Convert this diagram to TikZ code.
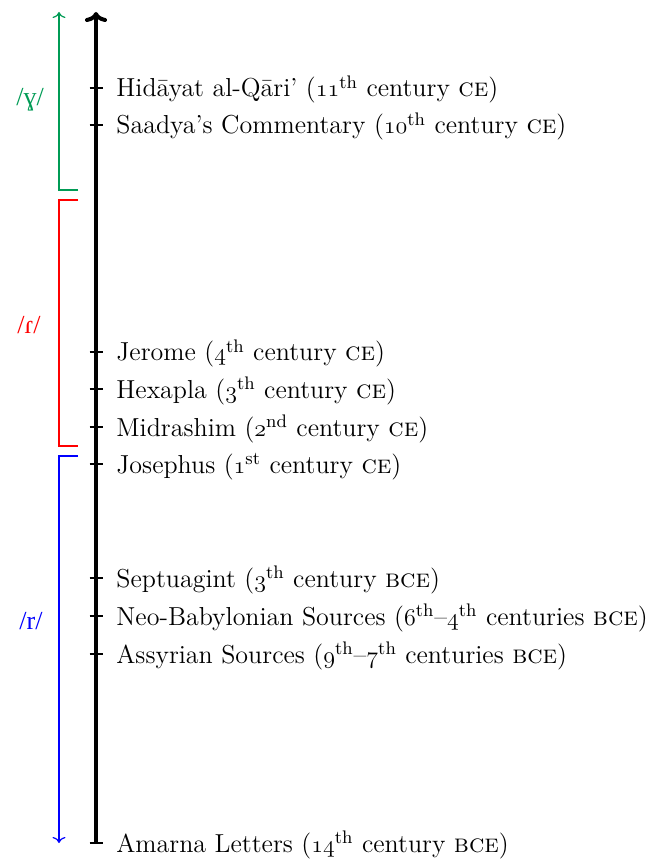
\documentclass[tikz,border=0pt]{standalone}
\usepackage{fontspec}
\usetikzlibrary{arrows.meta}
\newfontfamily\ipafont{Liberation Serif}
\definecolor{ggreen}{RGB}{0,155,85}
\newcommand{\osn}[1]{{\usefont{OML}{cmm}{m}{it}#1}}
\newcommand{\sps}[1]{\textsuperscript{#1}}
\begin{document}
\begin{tikzpicture}[x=0.5pt,y=-0.5pt,
  lbl/.style={anchor=base west,inner sep=0pt,font=\fontsize{13}{15}\selectfont},
  ipa/.style={inner sep=0pt,font=\fontsize{13}{15}\selectfont\ipafont},
  tick/.style={line width=0.6pt},
  axis/.style={line width=2pt,-{To[length=5pt,width=11pt]}},
  span/.style={line width=0.6pt,-{To[length=3pt,width=6.5pt]}}]
\useasboundingbox (0,0) rectangle (664,860);
% axis
\coordinate (bot) at (96,843);
\coordinate (top) at (96,12);
\draw[axis] (bot) -- (top);
% events
\foreach \n/\y in {h/88,s/125,j/352,x/389,m/427,o/464,p/578,n/616,a/654,b/843}{
  \coordinate (t\n) at (96,\y);
  \draw[tick] ([xshift=-3.25pt]t\n) -- ([xshift=3.25pt]t\n);
}
\node[lbl] (lh) at (116,97) {Hidāyat al-Qāri’ (\osn{11}\sps{th} century \textsc{ce})};
\node[lbl] (ls) at (116,134) {Saadya’s Commentary (\osn{10}\sps{th} century \textsc{ce})};
\node[lbl] (lj) at (116,361) {Jerome (\osn{4}\sps{th} century \textsc{ce})};
\node[lbl] (lx) at (116,398) {Hexapla (\osn{3}\sps{th} century \textsc{ce})};
\node[lbl] (lm) at (116,436) {Midrashim (\osn{2}\sps{nd} century \textsc{ce})};
\node[lbl] (lo) at (116,473) {Josephus (\osn{1}\sps{st} century \textsc{ce})};
\node[lbl] (lp) at (116,587) {Septuagint (\osn{3}\sps{th} century \textsc{bce})};
\node[lbl] (ln) at (116,625) {Neo-Babylonian Sources (\osn{6}\sps{th}--\osn{4}\sps{th} centuries \textsc{bce})};
\node[lbl] (la) at (116,663) {Assyrian Sources (\osn{9}\sps{th}--\osn{7}\sps{th} centuries \textsc{bce})};
\node[lbl] (lb) at (116,852) {Amarna Letters (\osn{14}\sps{th} century \textsc{bce})};
% spans
\coordinate (g1) at (78,190); \coordinate (g2) at (59,190); \coordinate (g3) at (59,12);
\draw[span,ggreen] (g1) -- (g2) -- (g3);
\coordinate (r1) at (78,200); \coordinate (r2) at (59,200); \coordinate (r3) at (59,446); \coordinate (r4) at (78,446);
\draw[line width=0.6pt,red] (r1) -- (r2) -- (r3) -- (r4);
\coordinate (b1) at (78,456); \coordinate (b2) at (59,456); \coordinate (b3) at (59,843);
\draw[span,blue] (b1) -- (b2) -- (b3);
\node[ipa,text=ggreen] (vg) at (30,100) {/ɣ/};
\node[ipa,text=red] (vr) at (29,325) {/ɾ/};
\node[ipa,text=blue] (vb) at (31,621) {/r/};
\end{tikzpicture}
\end{document}
